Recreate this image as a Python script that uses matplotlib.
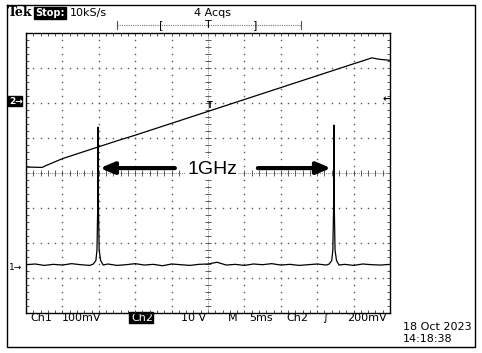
import numpy as np
import matplotlib.pyplot as plt

# ---- data (screen divisions: x 0..10, y -4..4) ----
ch2_t = [0, 0.45, 0.5, 1.0, 1.5, 2.0, 2.5, 3.0, 3.5, 4.0, 4.5, 5.0, 5.5,
         6.0, 6.5, 7.0, 7.5, 8.0, 8.5, 9.0, 9.3, 9.5, 9.7, 10]
ch2_v = [0.17, 0.16, 0.19, 0.41, 0.58, 0.75, 0.92, 1.08, 1.25, 1.42, 1.59, 1.76, 1.93,
         2.10, 2.27, 2.44, 2.61, 2.78, 2.95, 3.12, 3.22, 3.29, 3.25, 3.22]

ch1_t = [0, 0.25, 0.5, 0.75, 1.0, 1.25, 1.5, 1.75, 1.85, 1.92, 1.95, 1.97, 1.98, 1.99,
         2.01, 2.05, 2.12, 2.25, 2.5, 2.75, 3.0, 3.25, 3.5, 3.75, 4.0, 4.25, 4.5,
         4.75, 5.0, 5.25, 5.5, 5.75, 6.0, 6.25, 6.5, 6.75, 7.0, 7.25, 7.5, 7.75,
         8.0, 8.25, 8.33, 8.40, 8.43, 8.45, 8.46, 8.47, 8.49, 8.53, 8.60, 8.75,
         9.0, 9.25, 9.5, 9.75, 10]
ch1_v = [-2.62, -2.60, -2.64, -2.61, -2.63, -2.59, -2.62, -2.64, -2.60, -2.50, -2.20, -1.00, 1.31, -1.00,
         -2.20, -2.50, -2.63, -2.60, -2.64, -2.62, -2.59, -2.63, -2.61, -2.65, -2.60, -2.62, -2.64,
         -2.61, -2.60, -2.55, -2.63, -2.61, -2.64, -2.60, -2.62, -2.59, -2.63, -2.61, -2.64, -2.62,
         -2.60, -2.63, -2.60, -2.50, -2.20, -1.00, 1.37, -1.00, -2.20, -2.50, -2.63, -2.61,
         -2.64, -2.60, -2.62, -2.63, -2.61]

top_labels = ["10kS/s", "4 Acqs"]
bottom_labels = ["Ch1", "100mV", "Ch2", "10 V", "M", "5ms", "Ch2", "\u222b", "200mV"]
date_lines = ["18 Oct 2023", "14:18:38"]
freq_label = "1GHz"

fig = plt.figure(figsize=(4.82, 3.53), dpi=100)

# background layer in pixel coordinates for the scope frame and readouts
bg = fig.add_axes([0, 0, 1, 1])
bg.set_xlim(0, 482)
bg.set_ylim(353, 0)
bg.axis('off')
bg.plot([7, 475, 475, 7, 7], [5, 5, 347, 347, 5], color='k', lw=1)

fs = 8
bg.text(8, 13, "Tek", fontsize=9, family='DejaVu Serif', weight='bold', va='center')
bg.add_patch(plt.Rectangle((34, 7), 32, 12, color='k'))
bg.text(50, 13, "Stop:", fontsize=7, color='w', weight='bold', va='center', ha='center')
bg.text(70, 13, top_labels[0], fontsize=fs, va='center')
bg.text(213, 13, top_labels[1], fontsize=fs, va='center', ha='center')

# record bracket
bg.plot([117, 301], [25, 25], color='#777', lw=0.8, ls=(0, (1, 1)))
bg.plot([117, 117], [21, 29], color='#555', lw=0.8)
bg.plot([301, 301], [21, 29], color='#555', lw=0.8)
bg.text(161, 25, "[", fontsize=fs, va='center', ha='center')
bg.text(208, 25, "T", fontsize=fs, va='center', ha='center')
bg.text(255, 25, "]", fontsize=fs, va='center', ha='center')

# bottom readout
bx = [30, 62, 131, 181, 228, 249, 286, 322, 347]
for i, (x, s) in enumerate(zip(bx, bottom_labels)):
    if i == 2:
        bg.add_patch(plt.Rectangle((129, 312), 24, 11, color='k'))
        bg.text(x, 318, s, fontsize=fs, color='w', va='center')
    else:
        bg.text(x, 318, s, fontsize=fs, va='center')
bg.text(403, 327, date_lines[0], fontsize=fs, va='center')
bg.text(403, 339, date_lines[1], fontsize=fs, va='center')

# channel markers
bg.add_patch(plt.Rectangle((8, 96), 14, 10, color='k'))
bg.text(9, 101, "2\u2192", fontsize=6.5, color='w', weight='bold', va='center')
bg.text(9, 268, "1\u2192", fontsize=6.5, va='center')
bg.text(383, 99, "\u2190", fontsize=7, weight='bold', va='center')

# ---- graticule ----
ax = fig.add_axes([26 / 482, 40 / 353, 364 / 482, 280 / 353])
ax.set_xlim(0, 10)
ax.set_ylim(-4, 4)
ax.set_facecolor('none')
for s in ax.spines.values():
    s.set_linewidth(1)
ax.set_xticks(np.arange(0, 11, 1))
ax.set_yticks(np.arange(-4, 5, 1))
ax.set_xticks(np.arange(0, 10.01, 0.2), minor=True)
ax.set_yticks(np.arange(-4, 4.01, 0.2), minor=True)
ax.tick_params(which='both', direction='in', length=2.5, width=0.6,
               top=True, right=True, labelbottom=False, labelleft=False, color='#333')

minor_x = np.arange(0, 10.01, 0.2)
minor_y = np.arange(-4, 4.01, 0.2)
for gx in [1, 2, 3, 4, 6, 7, 8, 9]:
    ax.plot(np.full_like(minor_y, gx), minor_y, ls='none', marker='s', ms=1.0,
            mew=0, color='#555')
for gy in [-3, -2, -1, 1, 2, 3]:
    ax.plot(minor_x, np.full_like(minor_x, gy), ls='none', marker='s', ms=1.0,
            mew=0, color='#555')
# center cross
ax.axhline(0, color='#888', lw=0.7, ls=(0, (1, 1)))
ax.axvline(5, color='#888', lw=0.7, ls=(0, (1, 1)))
ax.plot(minor_x, np.zeros_like(minor_x), ls='none', marker='|', ms=4, mew=0.6, color='#444')
ax.plot(np.full_like(minor_y, 5), minor_y, ls='none', marker='_', ms=4, mew=0.6, color='#444')

# ---- traces ----
ax.plot(ch2_t, ch2_v, color='k', lw=0.9)
ax.plot(ch1_t, ch1_v, color='k', lw=0.9)
ax.text(5.05, 1.94, "T", fontsize=6, ha='center', va='center', weight='bold')

# ---- annotation ----
arrow = dict(arrowstyle='-|>,head_length=0.6,head_width=0.25', lw=3, color='k',
             shrinkA=0, shrinkB=0, mutation_scale=14)
ax.annotate('', xy=(2.03, 0.14), xytext=(4.09, 0.14), arrowprops=arrow)
ax.annotate('', xy=(8.38, 0.14), xytext=(6.37, 0.14), arrowprops=arrow)
ax.text(5.11, 0.11, freq_label, fontsize=14, family='Liberation Sans',
        ha='center', va='center', bbox=dict(facecolor='w', edgecolor='none', pad=1))

fig.savefig('out.png', dpi=100)
